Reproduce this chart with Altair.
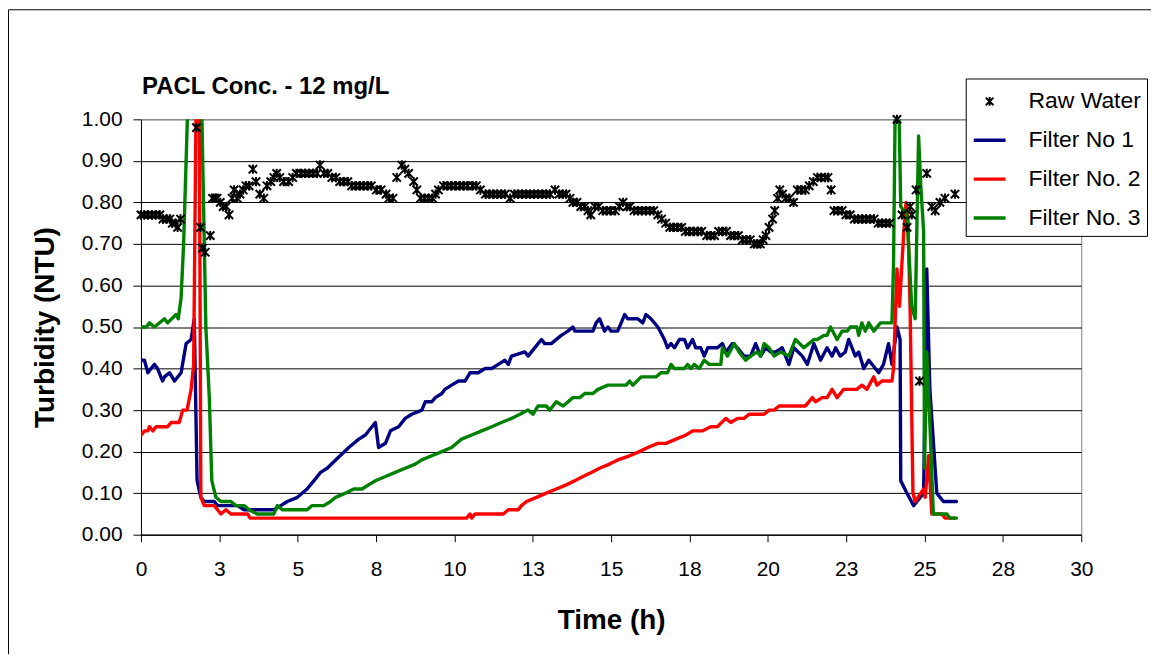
import altair as alt
import pandas as pd

# ---------------- data ----------------
raw_t = [0.00, 0.10, 0.22, 0.35, 0.47, 0.60, 0.70, 0.82, 0.92, 1.00, 1.10, 1.17, 1.26,
         1.77, 1.90, 1.96, 2.05, 2.21, 2.28, 2.37, 2.43, 2.53, 2.62, 2.72, 2.81, 2.91,
         2.97, 3.07, 3.16, 3.26, 3.35, 3.45, 3.57, 3.67, 3.79, 3.92, 4.02, 4.14, 4.24,
         4.33, 4.43, 4.55, 4.71, 4.84, 4.96, 5.11, 5.24, 5.36, 5.49, 5.62, 5.71, 5.84,
         5.96, 6.09, 6.22, 6.34, 6.47, 6.60, 6.72, 6.85, 6.98, 7.10, 7.23, 7.35, 7.51,
         7.66, 7.82, 7.91, 8.04, 8.16, 8.32, 8.42, 8.54, 8.70, 8.80, 8.92, 9.05, 9.18,
         9.30, 9.40, 9.49, 9.65, 9.78, 9.90, 10.03, 10.17, 10.29, 10.42, 10.58, 10.70,
         10.83, 10.99, 11.12, 11.24, 11.37, 11.49, 11.62, 11.78, 11.91, 12.03, 12.16,
         12.29, 12.41, 12.54, 12.67, 12.80, 12.93, 13.05, 13.21, 13.34, 13.46, 13.56,
         13.69, 13.78, 13.91, 14.03, 14.16, 14.26, 14.35, 14.48, 14.60, 14.73, 14.86,
         14.98, 15.13, 15.26, 15.38, 15.51, 15.60, 15.73, 15.86, 15.98, 16.11, 16.24,
         16.36, 16.49, 16.61, 16.74, 16.87, 16.99, 17.12, 17.25, 17.37, 17.50, 17.64,
         17.76, 17.89, 18.05, 18.18, 18.30, 18.43, 18.55, 18.68, 18.81, 18.93, 19.06,
         19.19, 19.31, 19.44, 19.57, 19.66, 19.76, 19.85, 19.94, 20.04, 20.15, 20.22,
         20.31, 20.38, 20.47, 20.57, 20.69, 20.82, 20.94, 21.07, 21.20, 21.32, 21.45,
         21.58, 21.70, 21.83, 21.92, 22.02, 22.11, 22.24, 22.37, 22.49, 22.63, 22.76,
         22.88, 23.01, 23.14, 23.26, 23.39, 23.52, 23.64, 23.77, 23.89, 24.12, 24.28,
         24.44, 24.54, 24.59, 24.73, 24.84, 25.07, 25.23, 25.34, 25.49, 25.65, 25.97]
raw_v = [0.77, 0.77, 0.77, 0.77, 0.77, 0.77, 0.76, 0.76, 0.76, 0.75, 0.75, 0.74, 0.76,
         0.98, 0.74, 0.69, 0.68, 0.72, 0.81, 0.81, 0.81, 0.80, 0.79, 0.79, 0.77, 0.81,
         0.83, 0.81, 0.82, 0.83, 0.84, 0.84, 0.88, 0.85, 0.82, 0.81, 0.84, 0.85, 0.86,
         0.87, 0.86, 0.85, 0.85, 0.86, 0.87, 0.87, 0.87, 0.87, 0.87, 0.87, 0.89, 0.87,
         0.87, 0.86, 0.86, 0.85, 0.85, 0.85, 0.84, 0.84, 0.84, 0.84, 0.84, 0.84, 0.83,
         0.83, 0.82, 0.81, 0.81, 0.86, 0.89, 0.88, 0.87, 0.85, 0.83, 0.81, 0.81, 0.81,
         0.81, 0.82, 0.83, 0.84, 0.84, 0.84, 0.84, 0.84, 0.84, 0.84, 0.84, 0.84,
         0.83, 0.82, 0.82, 0.82, 0.82, 0.82, 0.82, 0.81, 0.82, 0.82, 0.82,
         0.82, 0.82, 0.82, 0.82, 0.82, 0.82, 0.82, 0.83, 0.82, 0.82, 0.82,
         0.81, 0.80, 0.80, 0.79, 0.79, 0.78, 0.77, 0.79, 0.79, 0.78, 0.78,
         0.78, 0.78, 0.79, 0.80, 0.79, 0.79, 0.78, 0.78, 0.78, 0.78, 0.78,
         0.78, 0.77, 0.76, 0.75, 0.74, 0.74, 0.74, 0.74, 0.73, 0.73, 0.73,
         0.73, 0.73, 0.72, 0.72, 0.72, 0.73, 0.73, 0.73, 0.72, 0.72, 0.72,
         0.71, 0.71, 0.71, 0.70, 0.70, 0.70, 0.71, 0.72, 0.74, 0.76, 0.78,
         0.81, 0.83, 0.82, 0.81, 0.81, 0.80, 0.83, 0.83, 0.83, 0.84, 0.85,
         0.86, 0.86, 0.86, 0.86, 0.83, 0.78, 0.78, 0.78, 0.77, 0.77, 0.76,
         0.76, 0.76, 0.76, 0.76, 0.76, 0.75, 0.75, 0.75, 0.75, 1.00, 0.77,
         0.74, 0.79, 0.77, 0.83, 0.37, 0.87, 0.79, 0.78, 0.80, 0.81, 0.82]

f1_t = [0.01, 0.11, 0.22, 0.32, 0.43, 0.53, 0.69, 0.75, 0.91, 1.07, 1.28, 1.44, 1.60,
        1.70, 1.79, 1.91, 2.02, 2.34, 2.44, 3.08, 3.29, 4.24, 4.46, 4.67, 4.99, 5.30,
        5.52, 5.73, 5.94, 6.21, 6.63, 6.95, 7.16, 7.48, 7.58, 7.80, 7.96, 8.22, 8.43,
        8.64, 8.96, 9.07, 9.28, 9.39, 9.60, 9.70, 9.91, 10.13, 10.34, 10.50, 10.76,
        10.98, 11.19, 11.40, 11.61, 11.72, 11.82, 12.25, 12.35, 12.67, 12.78, 12.88,
        13.09, 13.41, 13.62, 13.78, 13.84, 14.42, 14.52, 14.63, 14.79, 14.90, 15.00,
        15.21, 15.43, 15.53, 15.85, 16.01, 16.11, 16.27, 16.49, 16.70, 16.80, 16.91,
        17.02, 17.18, 17.34, 17.44, 17.60, 17.70, 17.86, 17.97, 18.08, 18.23, 18.39,
        18.55, 18.66, 18.87, 19.03, 19.24, 19.45, 19.61, 19.77, 19.93, 20.09, 20.25,
        20.46, 20.67, 20.83, 21.10, 21.26, 21.47, 21.68, 21.89, 22.05, 22.16, 22.31,
        22.47, 22.58, 22.79, 22.90, 23.06, 23.22, 23.54, 23.69, 23.85, 23.96, 24.12,
        24.22, 24.24, 24.44, 24.65, 24.97, 25.07, 25.17, 25.39, 25.60, 26.02]
f1_v = [0.42, 0.42, 0.39, 0.40, 0.41, 0.40, 0.37, 0.38, 0.39, 0.37, 0.39, 0.46, 0.47,
        0.52, 0.13, 0.09, 0.08, 0.08, 0.07, 0.07, 0.06, 0.06, 0.07, 0.08, 0.09, 0.11,
        0.13, 0.15, 0.16, 0.18, 0.21, 0.23, 0.24, 0.27, 0.21, 0.22, 0.25, 0.26, 0.28,
        0.29, 0.30, 0.32, 0.32, 0.33, 0.34, 0.35, 0.36, 0.37, 0.37, 0.39, 0.39,
        0.40, 0.40, 0.41, 0.42, 0.41, 0.43, 0.44, 0.43, 0.46, 0.47, 0.46,
        0.46, 0.48, 0.49, 0.50, 0.49, 0.49, 0.51, 0.52, 0.49, 0.50, 0.49,
        0.49, 0.53, 0.52, 0.52, 0.51, 0.53, 0.52, 0.50, 0.47, 0.45, 0.46,
        0.45, 0.47, 0.47, 0.45, 0.47, 0.45, 0.45, 0.43, 0.45, 0.45, 0.45,
        0.46, 0.44, 0.46, 0.45, 0.43, 0.43, 0.46, 0.43, 0.45, 0.44, 0.44,
        0.45, 0.41, 0.45, 0.43, 0.41, 0.46, 0.42, 0.45, 0.43, 0.45, 0.43,
        0.44, 0.47, 0.43, 0.44, 0.40, 0.42, 0.39, 0.41, 0.46, 0.41, 0.50,
        0.47, 0.13, 0.10, 0.07, 0.10, 0.64, 0.35, 0.10, 0.08, 0.08]

f2_t = [0.01, 0.11, 0.22, 0.27, 0.38, 0.48, 0.85, 0.96, 1.22, 1.33, 1.47, 1.60, 1.68,
        1.76, 1.86, 1.91, 2.02, 2.34, 2.55, 2.71, 2.87, 3.40, 3.48, 10.39, 10.50, 10.55,
        10.66, 11.56, 11.72, 12.04, 12.14, 12.30, 12.62, 12.93, 13.25, 13.57, 13.84,
        14.10, 14.37, 14.63, 14.95, 15.21, 15.59, 15.90, 16.17, 16.49, 16.75, 17.07,
        17.39, 17.60, 17.92, 18.18, 18.39, 18.66, 18.82, 19.03, 19.24, 19.40, 19.88,
        20.04, 20.20, 20.36, 20.52, 20.67, 21.20, 21.42, 21.52, 21.73, 21.89, 22.05,
        22.21, 22.42, 22.84, 23.00, 23.16, 23.38, 23.48, 23.64, 23.96, 24.01, 24.12,
        24.20, 24.33, 24.41, 24.47, 24.54, 24.63, 24.70, 24.97, 25.02, 25.13, 25.23,
        25.55, 25.65, 25.97]
f2_v = [0.24, 0.25, 0.25, 0.26, 0.25, 0.26, 0.26, 0.27, 0.27, 0.30, 0.30, 0.35, 0.41,
        1.05, 1.05, 0.09, 0.07, 0.07, 0.05, 0.06, 0.05, 0.05, 0.04, 0.04, 0.05, 0.04,
        0.05, 0.05, 0.06, 0.06, 0.07, 0.08, 0.09, 0.10, 0.11, 0.12, 0.13,
        0.14, 0.15, 0.16, 0.17, 0.18, 0.19, 0.20, 0.21, 0.22, 0.22, 0.23,
        0.24, 0.25, 0.25, 0.26, 0.26, 0.28, 0.27, 0.28, 0.28, 0.29, 0.29,
        0.30, 0.30, 0.31, 0.31, 0.31, 0.31, 0.33, 0.32, 0.33, 0.33, 0.35,
        0.33, 0.35, 0.35, 0.36, 0.35, 0.38, 0.36, 0.37, 0.37, 0.40, 0.64,
        0.55, 0.72, 0.80, 0.76, 0.54, 0.10, 0.08, 0.11, 0.09, 0.19, 0.05,
        0.05, 0.04, 0.04]

f3_t = [0.01, 0.17, 0.27, 0.43, 0.75, 0.85, 1.12, 1.19, 1.28, 1.36, 1.52, 1.92, 2.07,
        2.18, 2.26, 2.39, 2.55, 2.87, 3.03, 3.29, 3.45, 3.71, 4.24, 4.35, 4.51, 5.30,
        5.46, 5.83, 6.05, 6.21, 6.52, 6.79, 7.05, 7.26, 7.48, 7.80, 8.11, 8.43, 8.75,
        8.96, 9.28, 9.60, 9.91, 10.23, 10.55, 10.87, 11.19, 11.50, 11.82, 12.09, 12.35,
        12.51, 12.67, 12.93, 13.04, 13.25, 13.47, 13.78, 14.00, 14.16, 14.42, 14.58,
        14.90, 15.48, 15.59, 15.69, 15.96, 16.43, 16.59, 16.80, 16.91, 17.02, 17.34,
        17.44, 17.55, 17.65, 17.81, 17.97, 18.13, 18.39, 18.50, 18.55, 18.71, 18.93,
        19.08, 19.29, 19.45, 19.66, 19.77, 19.88, 20.04, 20.20, 20.41, 20.67, 20.88,
        21.15, 21.31, 21.47, 21.58, 21.79, 21.89, 22.00, 22.21, 22.37, 22.53, 22.63,
        22.84, 22.90, 23.00, 23.11, 23.22, 23.38, 23.59, 23.96, 24.01, 24.07, 24.17,
        24.24, 24.44, 24.59, 24.70, 24.81, 24.88, 24.97, 25.00, 25.07, 25.18, 25.28,
        25.71, 25.81, 26.02]
f3_v = [0.50, 0.50, 0.51, 0.50, 0.52, 0.51, 0.53, 0.52, 0.57, 0.70, 1.10, 1.10, 0.50,
        0.33, 0.13, 0.09, 0.08, 0.08, 0.07, 0.07, 0.06, 0.05, 0.05, 0.07, 0.06, 0.06,
        0.07, 0.07, 0.08, 0.09, 0.10, 0.11, 0.11, 0.12, 0.13, 0.14, 0.15, 0.16, 0.17,
        0.18, 0.19, 0.20, 0.21, 0.23, 0.24, 0.25, 0.26, 0.27, 0.28, 0.29, 0.30,
        0.29, 0.31, 0.31, 0.30, 0.32, 0.31, 0.33, 0.33, 0.34, 0.34, 0.35,
        0.36, 0.36, 0.37, 0.36, 0.38, 0.38, 0.39, 0.39, 0.41, 0.40, 0.40,
        0.41, 0.40, 0.41, 0.40, 0.42, 0.41, 0.41, 0.41, 0.45, 0.43, 0.46,
        0.44, 0.42, 0.43, 0.44, 0.43, 0.46, 0.45, 0.43, 0.44, 0.43, 0.47,
        0.45, 0.46, 0.47, 0.47, 0.48, 0.48, 0.50, 0.47, 0.49, 0.49, 0.50,
        0.50, 0.48, 0.51, 0.49, 0.51, 0.49, 0.51, 0.51, 0.65, 1.08, 1.08,
        0.79, 0.77, 0.55, 0.52, 0.96, 0.84, 0.73, 0.16, 0.44, 0.25, 0.05,
        0.05, 0.04, 0.04]

SERIES = ["Raw Water", "Filter No 1", "Filter No. 2", "Filter No. 3"]
COLORS = ["#000000", "#000080", "#FF0000", "#008000"]
X_TICKS = [0, 2.5, 5, 7.5, 10, 12.5, 15, 17.5, 20, 22.5, 25, 27.5, 30]
Y_TICKS = [0.0, 0.1, 0.2, 0.3, 0.4, 0.5, 0.6, 0.7, 0.8, 0.9, 1.0]
TITLE = "PACL Conc. - 12 mg/L"

# ---------------- build ----------------
STAR = "M-0.24,-0.24L0.24,0.24M-0.24,0.24L0.24,-0.24M0,-0.27L0,0.27"
SHAPES = [STAR, "stroke", "stroke", "stroke"]
WIDTHS = [2, 3.4, 3.4, 3.4]

raw_df = pd.DataFrame({"t": raw_t, "v": raw_v, "series": SERIES[0]})
f1_df = pd.DataFrame({"t": f1_t, "v": f1_v, "series": SERIES[1]})
f2_df = pd.DataFrame({"t": f2_t, "v": f2_v, "series": SERIES[2]})
f3_df = pd.DataFrame({"t": f3_t, "v": f3_v, "series": SERIES[3]})

W, H = 944, 417
FONT = "Liberation Sans"

LEG = alt.Legend(title=None, orient="none", legendX=828, legendY=-41)

x_enc = alt.X("t:Q", scale=alt.Scale(domain=[0, 30], nice=False, zero=False),
              axis=alt.Axis(values=X_TICKS, format=".0f", title="Time (h)", grid=False,
                            tickSize=7, labelPadding=17, labelFlush=False, labelOverlap=False,
                            titleX=472, titleY=86, titleBaseline="middle", titleAlign="center"))
y_enc = alt.Y("v:Q", scale=alt.Scale(domain=[0, 1], nice=False),
              axis=alt.Axis(values=Y_TICKS, format=".2f", title="Turbidity (NTU)", grid=True,
                            gridColor=alt.condition("datum.value >= 1", alt.value("#808080"), alt.value("#000000")),
                            tickSize=8, labelPadding=11, labelFlush=False,
                            titleX=-96, titleY=208.5, titleAngle=270,
                            titleBaseline="middle", titleAlign="center"))
color_enc = alt.Color("series:N", scale=alt.Scale(domain=SERIES, range=COLORS), legend=LEG)
sw_enc = alt.StrokeWidth("series:N", scale=alt.Scale(type="ordinal", domain=SERIES, range=WIDTHS), legend=LEG)
shape_enc = alt.Shape("series:N", scale=alt.Scale(domain=SERIES, range=SHAPES), legend=LEG)


def line_layer(df):
    return alt.Chart(df).mark_line(clip=True, strokeJoin="round", strokeCap="round").encode(
        x=x_enc, y=y_enc, color=color_enc, strokeWidth=sw_enc)


points = alt.Chart(raw_df).mark_point(filled=False, size=1210, opacity=1).encode(
    x=x_enc, y=y_enc, color=color_enc, shape=shape_enc, strokeWidth=sw_enc)

single = alt.Data(values=[{"k": 0}])
title_text = alt.Chart(single).mark_text(
    align="left", baseline="alphabetic", font=FONT, fontSize=24, fontWeight="bold", color="black"
).encode(text=alt.value(TITLE), x=alt.value(1), y=alt.value(-25))
top_border = alt.Chart(single).mark_rule(color="black", strokeWidth=1).encode(
    x=alt.value(-133), x2=alt.value(1014), y=alt.value(-110))
left_border = alt.Chart(single).mark_rule(color="black", strokeWidth=1).encode(
    x=alt.value(-133), y=alt.value(-110), y2=alt.value(537))

chart = alt.layer(
    line_layer(f1_df), line_layer(f2_df), line_layer(f3_df), points,
    title_text, top_border, left_border
).properties(
    width=W, height=H,
    autosize=alt.AutoSizeParams(type="none"),
    padding={"left": 133.5, "top": 110.5, "right": 70, "bottom": 120},
).configure_view(
    stroke="#808080", strokeWidth=1
).configure_axis(
    domainColor="black", domainWidth=1, tickColor="black", tickWidth=1,
    labelFont=FONT, labelFontSize=21, labelColor="black",
    titleFont=FONT, titleFontSize=28, titleFontWeight="bold", titleColor="black",
    gridWidth=1,
).configure_legend(
    labelFont=FONT, labelFontSize=23, labelColor="black", labelOffset=21, labelLimit=300,
    padding=6, rowPadding=9, symbolSize=1024, strokeColor="black", fillColor="white",
    cornerRadius=0, symbolStrokeWidth=3,
)

chart.save("out.html", embed_options={"renderer": "svg", "actions": False})
